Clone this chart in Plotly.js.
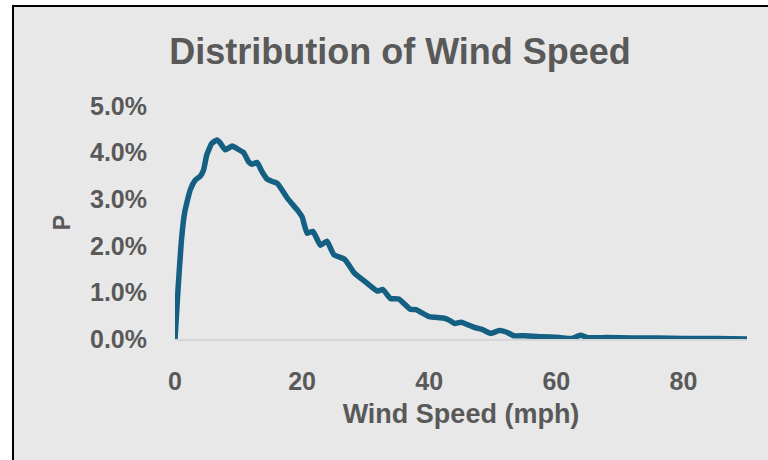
<!DOCTYPE html>
<html>
<head>
<meta charset="utf-8">
<script src="https://cdn.plot.ly/plotly-3.0.1.min.js"></script>
<style>
  html, body { margin: 0; padding: 0; background: #ffffff; overflow: hidden; width: 768px; height: 460px; }
  #frame { position: absolute; left: 12px; top: 5px; width: 756px; height: 455px;
           border-left: 2px solid #000; border-top: 2px solid #000; background: #e8e8e8; overflow: hidden; }
  #chart { width: 756px; height: 455px; }
</style>
</head>
<body>
<div id="frame"><div id="chart"></div></div>
<script>
// Wind speed (mph)
const windSpeed = [0, 0.5, 1, 1.5, 2.4, 3.2, 4, 4.5, 5, 5.8, 6.6, 7.1, 7.9, 9, 9.7, 10.8, 11.6, 12.1, 12.9, 13.7,
  14.5, 15.3, 16.1, 17.8, 19.3, 20, 20.8, 21.7, 22.9, 23.9, 25, 26.7, 28.2, 30.1, 31.8, 32.7, 33.9, 35.2,
  37, 37.9, 40, 42.2, 43.2, 44, 45, 47.1, 48.4, 49.7, 51, 52.1, 53.3, 55, 57.6, 60.5, 62.4, 63.8, 65,
  68, 72, 76, 80, 85, 90];
// Probability (fraction)
const probability = [0, 0.0112, 0.021, 0.027, 0.032, 0.0341, 0.035, 0.0363, 0.0395, 0.042, 0.0427, 0.0421,
  0.0406, 0.0414, 0.0409, 0.040, 0.038, 0.0375, 0.0379, 0.0359, 0.0343, 0.0338, 0.0334, 0.030, 0.0276,
  0.0262, 0.0227, 0.0231, 0.0201, 0.021, 0.0181, 0.0171, 0.0142, 0.0121, 0.0103, 0.0106, 0.0087, 0.0086,
  0.0064, 0.0063, 0.0048, 0.0045, 0.0040, 0.0033, 0.0036, 0.0025, 0.0020, 0.0012, 0.0018, 0.0015, 0.0007,
  0.0007, 0.0005, 0.0003, 0.0001, 0.0008, 0.0003, 0.0003, 0.0002, 0.0002, 0.0001, 0.0001, 0.0];
const xTicks = [0, 20, 40, 60, 80];
const yTicks = [0, 0.01, 0.02, 0.03, 0.04, 0.05];
const titleText = "Distribution of Wind Speed";
const xTitle = "Wind Speed (mph)";
const yTitle = "P";

const FONT = "'Century Gothic', 'Liberation Sans', Arial, sans-serif";
const TXT = "#595959";

const trace = {
  x: windSpeed, y: probability, type: "scatter", mode: "lines",
  line: { color: "#156082", width: 5.5, shape: "spline", smoothing: 0.45 },
  hoverinfo: "skip"
};

const layout = {
  width: 756, height: 455,
  paper_bgcolor: "#e8e8e8", plot_bgcolor: "#e8e8e8",
  margin: { l: 161, r: 23, t: 99, b: 123 },
  showlegend: false,
  font: { family: FONT, color: TXT },
  title: { text: titleText, font: { size: 36, color: TXT, family: FONT, weight: "bold" },
           x: 386 / 756, xanchor: "center", xref: "container", y: 1 - 44 / 455, yanchor: "middle", yref: "container" },
  xaxis: {
    range: [0, 90], tickvals: xTicks, ticktext: xTicks.map(String), showgrid: false, zeroline: false,
    showline: true, linecolor: "#d6d6d6", linewidth: 2, ticks: "", ticklabelstandoff: 19,
    tickfont: { size: 25, color: TXT, family: FONT, weight: "bold" }, fixedrange: true,
    title: { text: xTitle, font: { size: 27, color: TXT, family: FONT, weight: "bold" }, standoff: 10 }
  },
  yaxis: {
    range: [0, 0.05], tickvals: yTicks, tickformat: ".1%", showgrid: false, zeroline: false,
    showline: false, ticks: "", ticklabelstandoff: 27,
    tickfont: { size: 25, color: TXT, family: FONT, weight: "bold" }, fixedrange: true,
    title: { text: yTitle, font: { size: 23, color: TXT, family: FONT, weight: "bold" }, standoff: 12 }
  }
};

Plotly.newPlot("chart", [trace], layout, { displayModeBar: false, staticPlot: true });
</script>
</body>
</html>
